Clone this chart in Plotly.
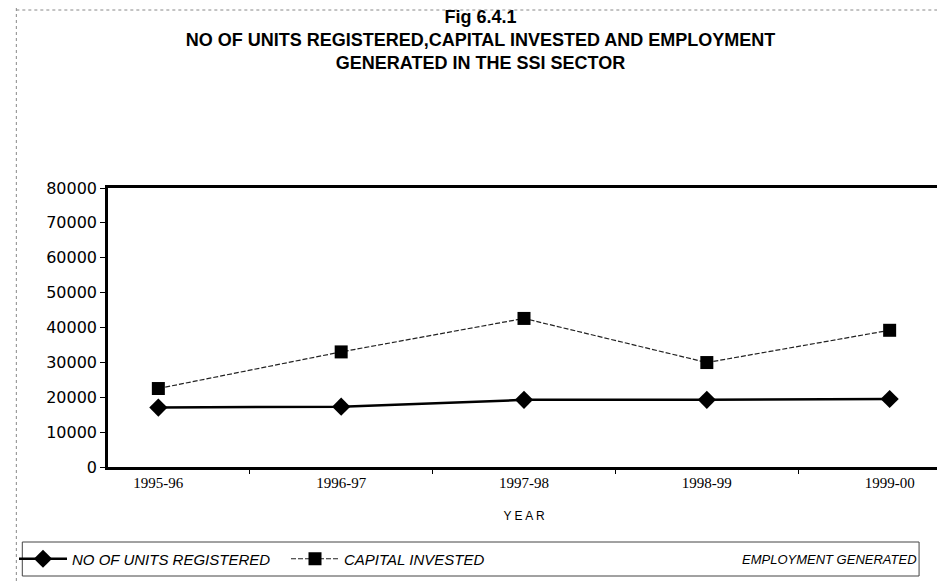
import plotly.graph_objects as go

years = ["1995-96", "1996-97", "1997-98", "1998-99", "1999-00"]
tick_labels = ["1995-96", "1996-97", "1997-98", "1998-99", "1999-00"]
units_registered = [17050, 17300, 19250, 19250, 19500]
capital_invested = [22500, 33000, 42600, 29950, 39200]
employment_generated = [None, None, None, None, None]

y_ticks = [0, 10000, 20000, 30000, 40000, 50000, 60000, 70000, 80000]

W, H = 945, 582
L, R, T, B = 100, 10, 180, 123
pw, ph = W - L - R, H - T - B


def px_x(v):
    return (v - L) / pw


def px_y(v):
    return (H - B - v) / ph


fig = go.Figure()
fig.add_trace(go.Scatter(
    x=years, y=units_registered, name="NO OF UNITS REGISTERED",
    mode="lines+markers", legend="legend",
    line=dict(color="black", width=2.5),
    marker=dict(symbol="diamond", size=14, color="black"),
))
fig.add_trace(go.Scatter(
    x=years, y=capital_invested, name="CAPITAL INVESTED",
    mode="lines+markers", legend="legend2",
    line=dict(color="#222222", width=1.2, dash="5px,2px"),
    marker=dict(symbol="square", size=13, color="black"),
))
fig.add_trace(go.Scatter(
    x=years, y=employment_generated, name="EMPLOYMENT GENERATED",
    mode="lines", legend="legend3",
    line=dict(color="rgba(0,0,0,0)", width=1),
))

legend_y = 551
legend_common = dict(
    orientation="h", xref="container", yref="container",
    y=1 - legend_y / H, yanchor="middle", xanchor="left",
    bgcolor="rgba(0,0,0,0)", borderwidth=0,
    font=dict(size=15, style="italic", family="Liberation Sans, Arial, sans-serif"),
    itemwidth=48,
)

fig.update_layout(
    width=W, height=H,
    margin=dict(l=L, r=R, t=T, b=B),
    paper_bgcolor="white", plot_bgcolor="white",
    font=dict(family="Liberation Sans, Arial, sans-serif", color="black"),
    title=dict(
        text="Fig 6.4.1<br>NO OF UNITS REGISTERED,CAPITAL INVESTED AND EMPLOYMENT<br>GENERATED IN THE SSI SECTOR",
        x=0.5, xref="container", xanchor="center",
        y=0.975, yref="container", yanchor="top",
        font=dict(size=18, family="Liberation Sans, Arial, sans-serif", weight="bold"),
    ),
    xaxis=dict(
        type="category", tickvals=years, ticktext=tick_labels,
        tickson="boundaries", ticks="outside", ticklen=4, tickcolor="black",
        showline=True, linecolor="black", linewidth=2.5, mirror=True,
        showgrid=False, zeroline=False,
        tickfont=dict(size=15, family="Liberation Serif, Times New Roman, serif"),
        title=dict(text="Y E A R", font=dict(size=12), standoff=22),
    ),
    yaxis=dict(
        range=[0, 80000], tickvals=y_ticks, ticktext=[str(v) for v in y_ticks],
        ticks="outside", ticklen=5, tickcolor="black",
        showline=True, linecolor="black", linewidth=2.5, mirror=True,
        showgrid=False, zeroline=False,
        tickfont=dict(size=16, family="DejaVu Sans, sans-serif"),
    ),
    legend=dict(legend_common, x=6 / W),
    legend2=dict(legend_common, x=278 / W),
    legend3=dict(legend_common, x=676 / W, font=dict(size=13, style="italic")),
    showlegend=True,
    shapes=[
        dict(type="rect", xref="paper", yref="paper",
             x0=px_x(14), x1=px_x(914), y0=px_y(legend_y - 17), y1=px_y(legend_y + 17),
             line=dict(color="#444444", width=1), fillcolor="rgba(0,0,0,0)"),
        dict(type="line", xref="paper", yref="paper",
             x0=px_x(8), x1=px_x(8), y0=px_y(0), y1=px_y(H),
             line=dict(color="#888888", width=1, dash="dot")),
        dict(type="line", xref="paper", yref="paper",
             x0=px_x(8), x1=px_x(W), y0=px_y(2), y1=px_y(2),
             line=dict(color="#888888", width=1, dash="dot")),
    ],
)

fig.write_html("out.html")
